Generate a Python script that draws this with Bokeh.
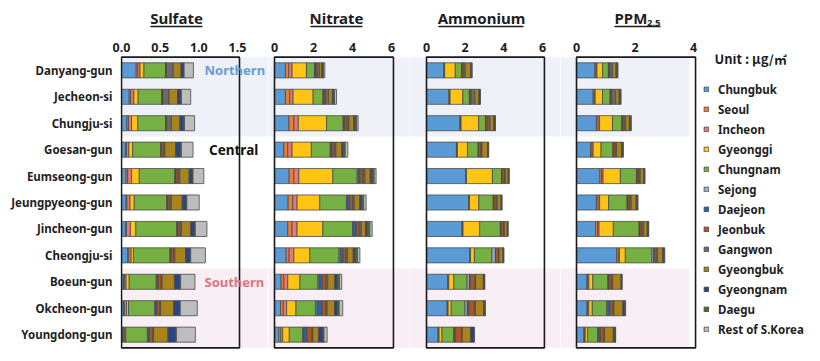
from bokeh.plotting import figure
from bokeh.layouts import row, column
from bokeh.models import (ColumnDataSource, FactorRange, Range1d, FixedTicker,
                          NumeralTickFormatter, Label, Legend, LegendItem)
from bokeh.core.properties import value
from bokeh.embed import file_html
from bokeh.resources import INLINE

regions = ["Danyang-gun", "Jecheon-si", "Chungju-si", "Goesan-gun", "Eumseong-gun",
           "Jeungpyeong-gun", "Jincheon-gun", "Cheongju-si", "Boeun-gun", "Okcheon-gun",
           "Youngdong-gun"]

sources = ["Chungbuk", "Seoul", "Incheon", "Gyeonggi", "Chungnam", "Sejong", "Daejeon",
           "Jeonbuk", "Gangwon", "Gyeongbuk", "Gyeongnam", "Daegu", "Rest of S.Korea"]

colors = ["#5B9BD5", "#ED7D31", "#E07B7B", "#FFC414", "#76B043", "#9AB0D6", "#2C64A3",
          "#B0541C", "#6B6B6B", "#A8841A", "#2B4583", "#4F6B2E", "#BDBDBD"]

# values per region (rows) in the order of `sources`
sulfate = [
    [0.19, 0.02, 0.03, 0.05, 0.28, 0.0, 0.0, 0.01, 0.09, 0.10, 0.03, 0.01, 0.12],
    [0.10, 0.02, 0.04, 0.055, 0.31, 0.0, 0.0, 0.01, 0.08, 0.11, 0.04, 0.01, 0.12],
    [0.07, 0.02, 0.04, 0.08, 0.36, 0.0, 0.0, 0.015, 0.06, 0.11, 0.05, 0.01, 0.13],
    [0.05, 0.015, 0.03, 0.05, 0.36, 0.005, 0.01, 0.03, 0.01, 0.14, 0.06, 0.015, 0.15],
    [0.06, 0.02, 0.05, 0.10, 0.46, 0.005, 0.01, 0.03, 0.02, 0.12, 0.04, 0.01, 0.14],
    [0.06, 0.01, 0.04, 0.055, 0.42, 0.005, 0.01, 0.03, 0.015, 0.14, 0.05, 0.01, 0.16],
    [0.05, 0.015, 0.05, 0.07, 0.53, 0.005, 0.01, 0.03, 0.015, 0.12, 0.05, 0.01, 0.15],
    [0.08, 0.015, 0.03, 0.03, 0.47, 0.01, 0.01, 0.03, 0.015, 0.14, 0.055, 0.01, 0.19],
    [0.025, 0.015, 0.02, 0.04, 0.35, 0.01, 0.015, 0.04, 0.01, 0.16, 0.065, 0.015, 0.185],
    [0.025, 0.015, 0.025, 0.025, 0.34, 0.01, 0.02, 0.035, 0.01, 0.17, 0.075, 0.01, 0.22],
    [0.02, 0.01, 0.015, 0.01, 0.28, 0.01, 0.02, 0.04, 0.01, 0.185, 0.10, 0.01, 0.245],
]

nitrate = [
    [0.56, 0.17, 0.17, 0.74, 0.41, 0.02, 0.03, 0.08, 0.12, 0.12, 0.04, 0.05, 0.07],
    [0.56, 0.22, 0.17, 1.03, 0.51, 0.02, 0.03, 0.08, 0.15, 0.20, 0.05, 0.06, 0.10],
    [0.74, 0.26, 0.22, 1.45, 0.85, 0.03, 0.05, 0.12, 0.10, 0.25, 0.06, 0.08, 0.08],
    [0.48, 0.20, 0.22, 0.99, 0.97, 0.03, 0.06, 0.12, 0.08, 0.30, 0.08, 0.10, 0.13],
    [0.75, 0.24, 0.26, 1.74, 1.25, 0.05, 0.10, 0.15, 0.10, 0.27, 0.08, 0.12, 0.10],
    [0.70, 0.24, 0.22, 1.16, 1.37, 0.05, 0.12, 0.15, 0.08, 0.28, 0.10, 0.10, 0.13],
    [0.68, 0.22, 0.26, 1.32, 1.52, 0.05, 0.15, 0.15, 0.10, 0.22, 0.08, 0.14, 0.12],
    [0.60, 0.15, 0.24, 0.82, 1.50, 0.06, 0.15, 0.15, 0.07, 0.30, 0.10, 0.12, 0.12],
    [0.34, 0.14, 0.20, 0.62, 0.92, 0.06, 0.17, 0.20, 0.08, 0.36, 0.12, 0.12, 0.12],
    [0.31, 0.14, 0.17, 0.48, 1.00, 0.08, 0.26, 0.20, 0.06, 0.38, 0.14, 0.10, 0.18],
    [0.22, 0.10, 0.10, 0.34, 0.68, 0.05, 0.17, 0.26, 0.05, 0.29, 0.20, 0.08, 0.16],
]

ammonium = [
    [0.90, 0.02, 0.02, 0.55, 0.33, 0.01, 0.01, 0.06, 0.10, 0.30, 0.01, 0.03, 0.02],
    [1.16, 0.03, 0.03, 0.66, 0.34, 0.01, 0.01, 0.06, 0.20, 0.22, 0.01, 0.04, 0.02],
    [1.72, 0.04, 0.03, 0.91, 0.35, 0.01, 0.01, 0.10, 0.12, 0.20, 0.01, 0.05, 0.02],
    [1.55, 0.03, 0.02, 0.52, 0.55, 0.02, 0.01, 0.12, 0.05, 0.30, 0.01, 0.02, 0.02],
    [2.03, 0.02, 0.02, 1.34, 0.47, 0.02, 0.01, 0.12, 0.05, 0.15, 0.01, 0.02, 0.02],
    [2.19, 0.02, 0.02, 0.48, 0.74, 0.03, 0.01, 0.12, 0.05, 0.20, 0.01, 0.02, 0.02],
    [1.84, 0.03, 0.02, 0.86, 1.07, 0.03, 0.01, 0.12, 0.05, 0.15, 0.01, 0.02, 0.01],
    [2.24, 0.03, 0.01, 0.20, 0.91, 0.17, 0.02, 0.15, 0.03, 0.20, 0.01, 0.02, 0.01],
    [1.10, 0.03, 0.02, 0.26, 0.69, 0.12, 0.04, 0.24, 0.04, 0.40, 0.02, 0.04, 0.02],
    [1.07, 0.03, 0.02, 0.16, 0.71, 0.12, 0.08, 0.30, 0.04, 0.42, 0.04, 0.03, 0.03],
    [0.60, 0.03, 0.02, 0.15, 0.60, 0.03, 0.06, 0.34, 0.02, 0.43, 0.15, 0.03, 0.02],
]

pm25 = [
    [0.63, 0.04, 0.03, 0.19, 0.20, 0.01, 0.01, 0.04, 0.08, 0.12, 0.02, 0.03, 0.02],
    [0.57, 0.04, 0.03, 0.25, 0.26, 0.01, 0.01, 0.04, 0.13, 0.12, 0.02, 0.03, 0.01],
    [0.68, 0.06, 0.05, 0.44, 0.32, 0.01, 0.01, 0.06, 0.05, 0.13, 0.02, 0.03, 0.01],
    [0.48, 0.05, 0.04, 0.27, 0.41, 0.01, 0.01, 0.06, 0.04, 0.17, 0.02, 0.03, 0.01],
    [0.80, 0.06, 0.05, 0.59, 0.55, 0.02, 0.01, 0.06, 0.04, 0.12, 0.01, 0.02, 0.01],
    [0.68, 0.06, 0.05, 0.31, 0.63, 0.02, 0.01, 0.06, 0.05, 0.17, 0.02, 0.03, 0.01],
    [0.65, 0.07, 0.05, 0.49, 0.88, 0.02, 0.01, 0.07, 0.06, 0.12, 0.02, 0.02, 0.01],
    [1.37, 0.06, 0.04, 0.20, 0.91, 0.06, 0.02, 0.07, 0.04, 0.18, 0.02, 0.03, 0.02],
    [0.36, 0.03, 0.03, 0.14, 0.51, 0.02, 0.02, 0.08, 0.05, 0.28, 0.02, 0.01, 0.01],
    [0.36, 0.03, 0.03, 0.12, 0.49, 0.04, 0.08, 0.10, 0.03, 0.30, 0.05, 0.03, 0.02],
    [0.25, 0.03, 0.02, 0.08, 0.34, 0.03, 0.07, 0.11, 0.03, 0.30, 0.05, 0.02, 0.01],
]

titles = ["Sulfate", "Nitrate", "Ammonium", "PPM"]
tick_sets = [[0, 0.5, 1.0, 1.5], [0, 2, 4, 6], [0, 2, 4, 6], [0, 2, 4]]
tick_formats = ["0.0", "0", "0", "0"]

FONT = "Noto Sans"
LABEL_COLOR = "#1e1e1e"
NORTH_BG = "#EEF1F8"
SOUTH_BG = "#F8EEF5"

# layout (pixels) and visible x-ranges for each panel
frame_w = [148, 141, 151, 245]
x_start = [-0.0129, -0.3077, -0.8795, -0.547]
x_end = [1.901, 6.923, 6.932, 7.829]
box_right = [1.526, 6.10, 6.10, 4.07]
band_left = [0.0, -0.3077, -0.8795, -0.547]
band_right = [1.901, 6.923, 6.932, 3.86]
FRAME_H = 296
TITLE_H = 30
TOP = 24
LEFT = 120
TOTAL_W = LEFT + sum(frame_w)


def make_source(rows):
    data = {"region": regions}
    for j, s in enumerate(sources):
        data[s] = [r[j] for r in rows]
    return ColumnDataSource(data)


# strip carrying the underlined panel titles (y measured upward from its bottom)
tfig = figure(width=TOTAL_W, height=TITLE_H, x_range=Range1d(0, TOTAL_W),
              y_range=Range1d(0, TITLE_H), toolbar_location=None, output_backend="svg",
              min_border=0, x_axis_location=None, y_axis_location=None, title=None)
tfig.outline_line_color = None
tfig.xgrid.visible = False
tfig.ygrid.visible = False
title_x = [176, 336, 481, 614]
title_align = ["center", "center", "center", "left"]
ul_x0 = [150, 310, 438, 614]
ul_x1 = [202, 362, 523, 660]
tfig.text(x=title_x, y=[12.5] * 4, text=titles, text_align=title_align,
          text_baseline="middle", text_font=value(FONT), text_font_style="bold",
          text_font_size="15px", text_color=LABEL_COLOR)
tfig.text(x=[646.5], y=[7.5], text=["2.5"], text_align="left", text_baseline="middle",
          text_font=value(FONT), text_font_style="bold", text_font_size="9.5px",
          text_color=LABEL_COLOR)
tfig.segment(x0=ul_x0, x1=ul_x1, y0=[4] * 4, y1=[4] * 4, line_color=LABEL_COLOR,
             line_width=1.4)

figs = []
stack_renderers = None
for k, rows in enumerate([sulfate, nitrate, ammonium, pm25]):
    p = figure(frame_width=frame_w[k], frame_height=FRAME_H,
               x_range=Range1d(x_start[k], x_end[k]),
               y_range=FactorRange(factors=regions[::-1], range_padding=0.1,
                                   range_padding_units="absolute"),
               x_axis_location="above",
               y_axis_location="left" if k == 0 else None,
               toolbar_location=None, output_backend="svg",
               min_border_left=LEFT if k == 0 else 0, min_border_right=0,
               min_border_top=TOP, min_border_bottom=3)
    p.outline_line_color = None
    p.xgrid.visible = False
    p.ygrid.visible = False
    p.background_fill_color = "white"

    # regional bands
    p.quad(left=band_left[k], right=band_right[k], bottom=8, top=11,
           fill_color=NORTH_BG, line_color=None)
    p.quad(left=band_left[k], right=band_right[k], bottom=0, top=3,
           fill_color=SOUTH_BG, line_color=None)

    src = make_source(rows)
    rs = p.hbar_stack(sources, y="region", height=0.57, source=src,
                      fill_color=colors, line_color="#4a4a4a", line_width=0.8)
    if k == 3:
        stack_renderers = rs

    # panel frame box
    p.quad(left=0, right=box_right[k], bottom=0, top=11, fill_color=None,
           line_color="#1a1a1a", line_width=1.6)

    ax = p.xaxis[0]
    ax.ticker = FixedTicker(ticks=tick_sets[k])
    ax.formatter = NumeralTickFormatter(format=tick_formats[k])
    ax.axis_line_color = None
    ax.major_tick_line_color = None
    ax.minor_tick_line_color = None
    ax.major_tick_out = 0
    ax.major_tick_in = 0
    ax.major_label_standoff = 3
    ax.major_label_text_font = FONT
    ax.major_label_text_font_style = "bold"
    ax.major_label_text_font_size = "12.5px"
    ax.major_label_text_color = LABEL_COLOR

    if k == 0:
        ya = p.yaxis[0]
        ya.axis_line_color = None
        ya.major_tick_line_color = None
        ya.minor_tick_line_color = None
        ya.major_tick_out = 0
        ya.major_tick_in = 0
        ya.major_label_standoff = 8
        ya.major_label_text_font = FONT
        ya.major_label_text_font_style = "bold"
        ya.major_label_text_font_size = "11.5px"
        ya.major_label_text_color = LABEL_COLOR
        p.text(x=[1.073], y=["Danyang-gun"], text=["Northern"], text_font=value(FONT),
               text_font_style="bold", text_font_size="13px", text_color="#6A9BD3",
               text_baseline="middle", text_align="left")
        p.text(x=[1.45], y=["Goesan-gun"], text=["Central"], text_font=value(FONT),
               text_font_style="bold", text_font_size="13.5px", text_color="#111111",
               text_baseline="middle", text_align="center")
        p.text(x=[1.073], y=["Boeun-gun"], text=["Southern"], text_font=value(FONT),
               text_font_style="bold", text_font_size="13px", text_color="#D9747E",
               text_baseline="middle", text_align="left")
    figs.append(p)

p4 = figs[3]
p4.add_layout(Label(x=154, y=FRAME_H - 4, x_units="screen", y_units="screen",
                    text="Unit : \u03bcg/\u33a5", text_font="Noto Sans CJK KR",
                    text_font_style="bold", text_font_size="13px", text_color=LABEL_COLOR,
                    text_align="left", text_baseline="middle"))

legend = Legend(items=[LegendItem(label=s, renderers=[r]) for s, r in zip(sources, stack_renderers)],
                location=(143, 13.5), orientation="vertical",
                glyph_width=6, glyph_height=6, label_height=14, label_standoff=9,
                spacing=5, padding=0, margin=0, border_line_color=None,
                background_fill_alpha=0.0,
                label_text_font=FONT, label_text_font_style="bold",
                label_text_font_size="11.5px", label_text_color=LABEL_COLOR)
p4.add_layout(legend)

layout = column(tfig, row(*figs, spacing=0), spacing=0)
open("out.html", "w").write(file_html(layout, INLINE))
